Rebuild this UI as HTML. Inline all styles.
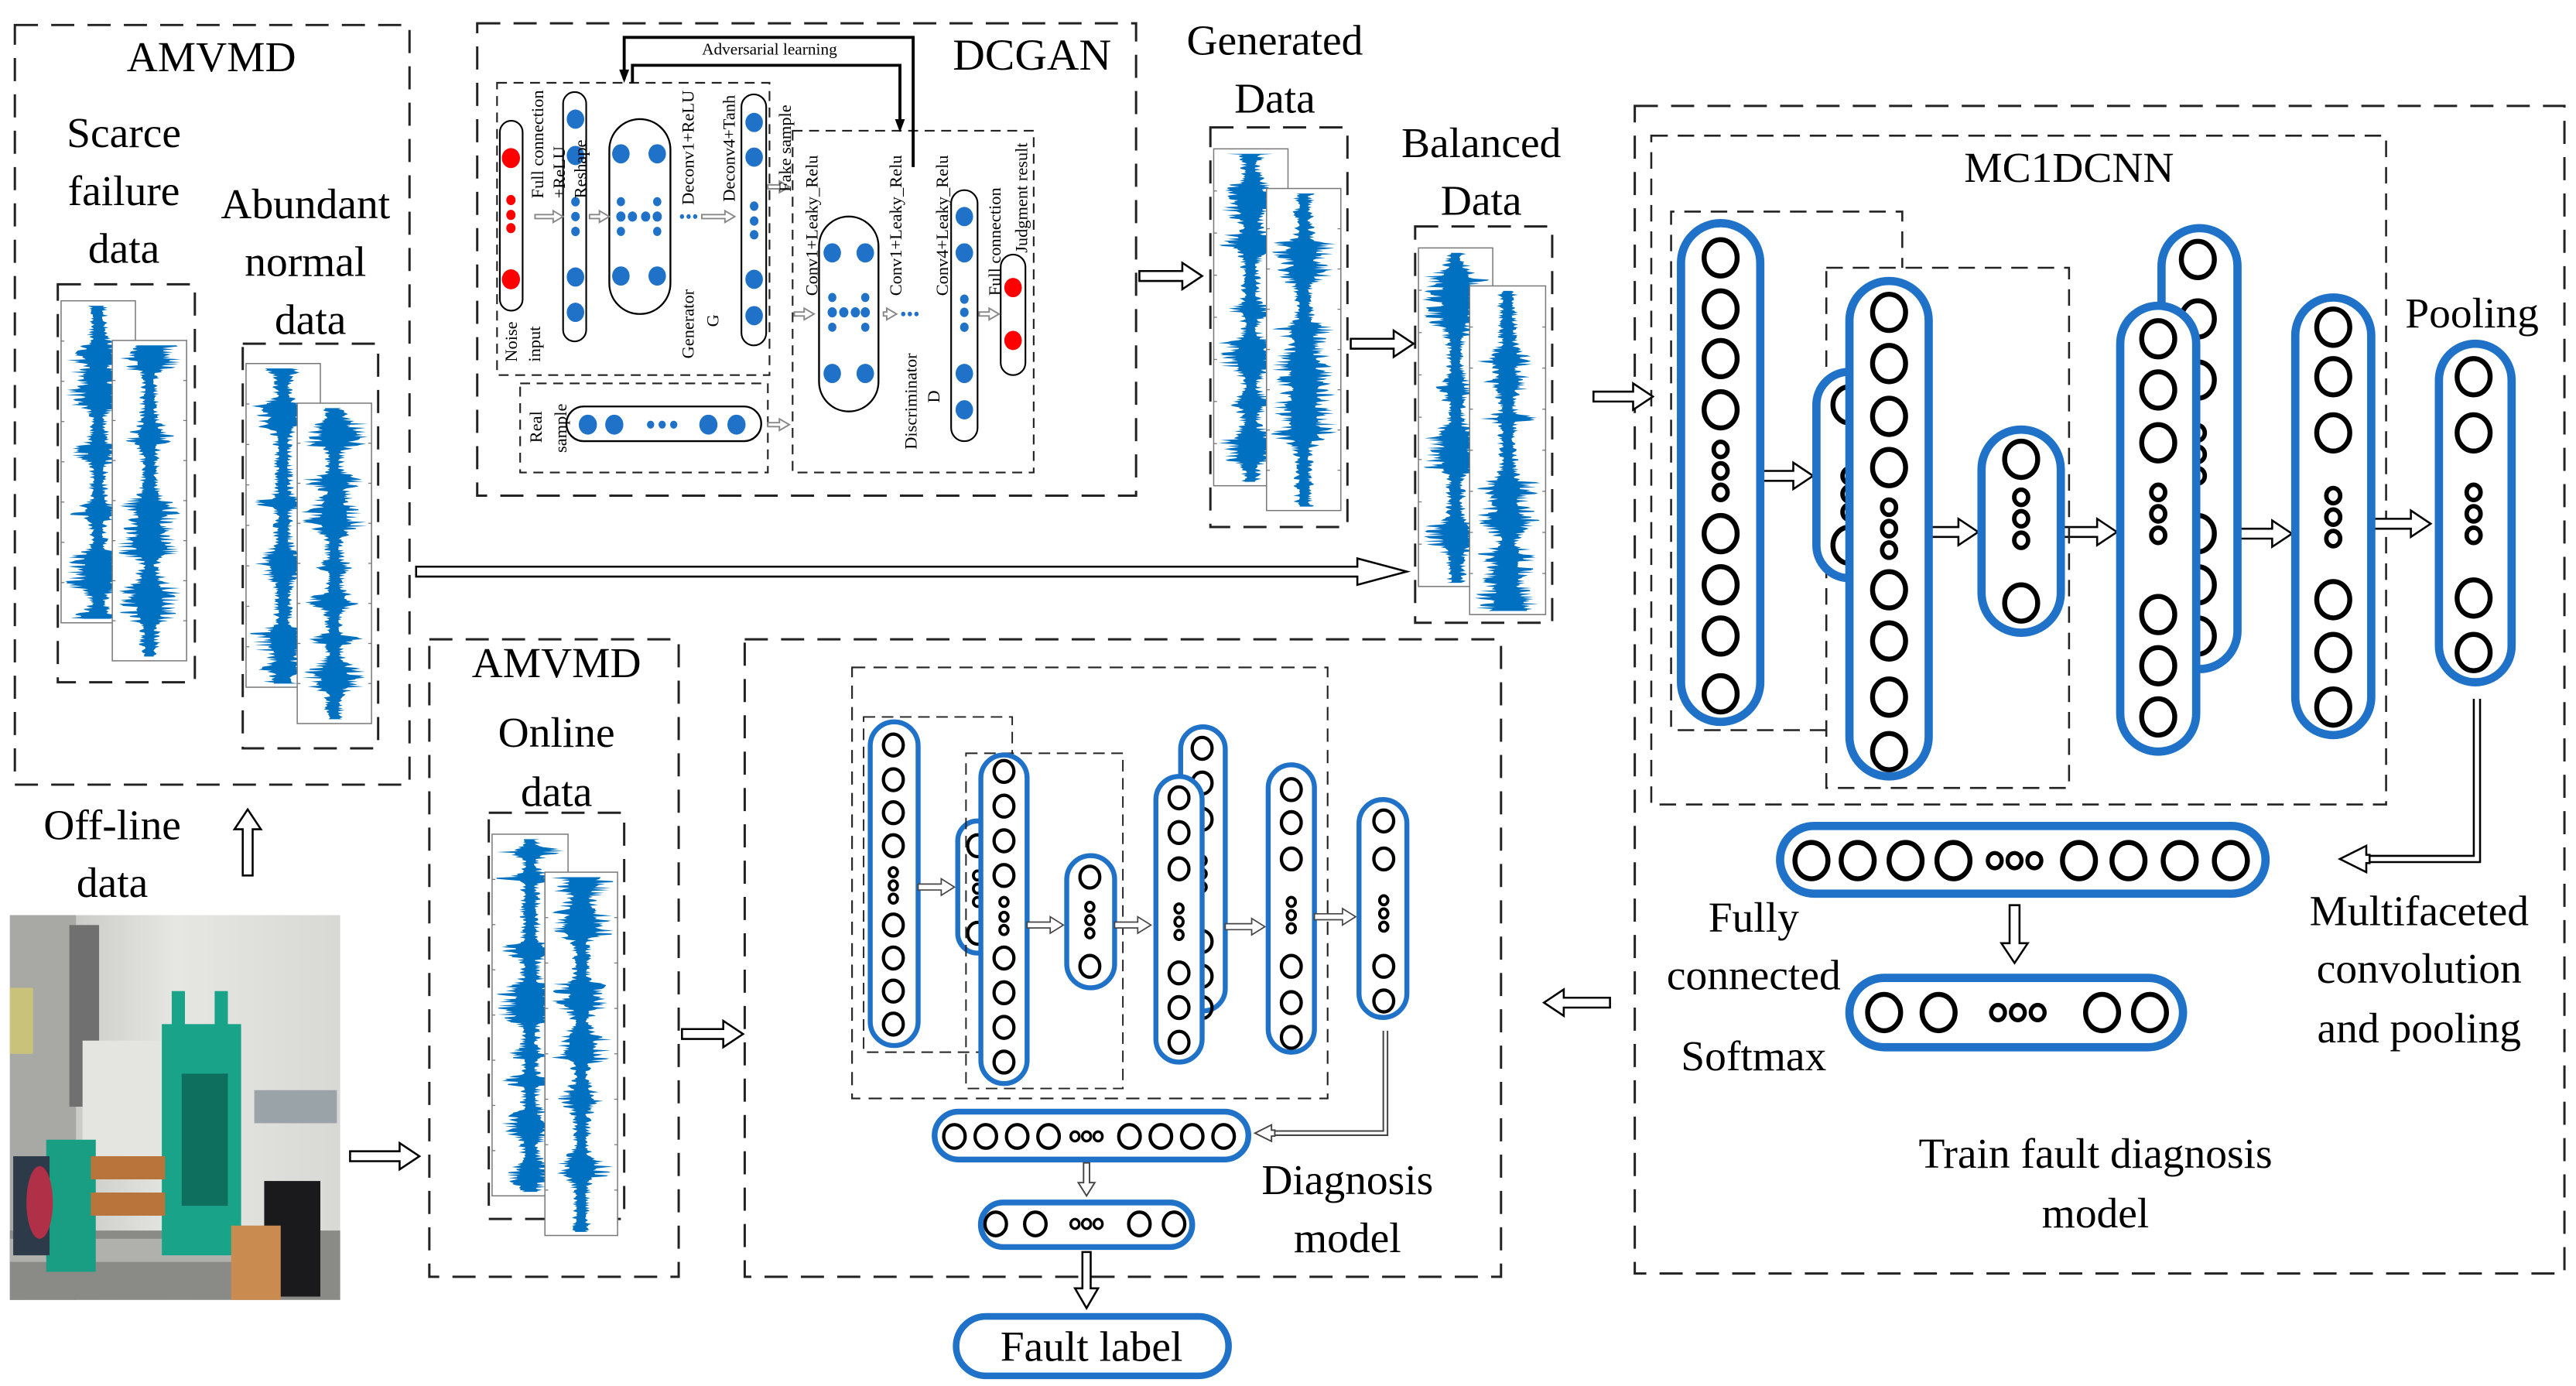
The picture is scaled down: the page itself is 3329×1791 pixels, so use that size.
<!DOCTYPE html>
<html><head><meta charset="utf-8">
<style>
html,body{margin:0;padding:0;background:#fff;}
svg{display:block;}
text{font-family:"Liberation Serif",serif;fill:#000;}
</style></head>
<body>
<svg id="s" width="3329" height="1791" viewBox="0 0 1560 839" xmlns="http://www.w3.org/2000/svg">
<rect width="1560" height="839" fill="#fff"/>
<g id="g"></g>
<g id="labels">
<text x="128" y="43" font-size="26" text-anchor="middle">AMVMD</text>
<text x="75" y="89" font-size="26" text-anchor="middle">Scarce</text>
<text x="75" y="124" font-size="26" text-anchor="middle">failure</text>
<text x="75" y="159" font-size="26" text-anchor="middle">data</text>
<text x="185" y="132" font-size="26" text-anchor="middle">Abundant</text>
<text x="185" y="167" font-size="26" text-anchor="middle">normal</text>
<text x="188" y="202" font-size="26" text-anchor="middle">data</text>
<text x="68" y="508" font-size="26" text-anchor="middle">Off-line</text>
<text x="68" y="543" font-size="26" text-anchor="middle">data</text>
<text x="337" y="410" font-size="26" text-anchor="middle">AMVMD</text>
<text x="337" y="452" font-size="26" text-anchor="middle">Online</text>
<text x="337" y="488" font-size="26" text-anchor="middle">data</text>
<text x="772" y="33" font-size="26" text-anchor="middle">Generated</text>
<text x="772" y="68" font-size="26" text-anchor="middle">Data</text>
<text x="897" y="95" font-size="26" text-anchor="middle">Balanced</text>
<text x="897" y="130" font-size="26" text-anchor="middle">Data</text>
<text x="625" y="42" font-size="27" text-anchor="middle">DCGAN</text>
<text x="466" y="33" font-size="10" text-anchor="middle">Adversarial learning</text>
<text x="1253" y="110" font-size="26" text-anchor="middle">MC1DCNN</text>
<text x="1497" y="198" font-size="26" text-anchor="middle">Pooling</text>
<text x="1062" y="564" font-size="26" text-anchor="middle">Fully</text>
<text x="1062" y="599" font-size="26" text-anchor="middle">connected</text>
<text x="1062" y="648" font-size="26" text-anchor="middle">Softmax</text>
<text x="1465" y="560" font-size="26" text-anchor="middle">Multifaceted</text>
<text x="1465" y="595" font-size="26" text-anchor="middle">convolution</text>
<text x="1465" y="631" font-size="26" text-anchor="middle">and pooling</text>
<text x="1269" y="707" font-size="26" text-anchor="middle">Train fault diagnosis</text>
<text x="1269" y="743" font-size="26" text-anchor="middle">model</text>
<text x="816" y="723" font-size="26" text-anchor="middle">Diagnosis</text>
<text x="816" y="758" font-size="26" text-anchor="middle">model</text>
<text x="661" y="824" font-size="26" text-anchor="middle">Fault label</text>
<g font-size="10.5">
<text transform="translate(313,219) rotate(-90)">Noise</text>
<text transform="translate(327,219) rotate(-90)">input</text>
<text transform="translate(329,120) rotate(-90)">Full connection</text>
<text transform="translate(342,120) rotate(-90)">+ReLU</text>
<text transform="translate(355,120) rotate(-90)">Reshape</text>
<text transform="translate(420,124) rotate(-90)">Deconv1+ReLU</text>
<text transform="translate(445,122) rotate(-90)">Deconv4+Tanh</text>
<text transform="translate(420,217) rotate(-90)">Generator</text>
<text transform="translate(435,194) rotate(-90)" text-anchor="middle">G</text>
<text transform="translate(479,116) rotate(-90)">Fake sample</text>
<text transform="translate(495,179) rotate(-90)">Conv1+Leaky_Relu</text>
<text transform="translate(546,179) rotate(-90)">Conv1+Leaky_Relu</text>
<text transform="translate(574,179) rotate(-90)">Conv4+Leaky_Relu</text>
<text transform="translate(606,179) rotate(-90)">Full connection</text>
<text transform="translate(622,153) rotate(-90)">Judgment result</text>
<text transform="translate(555,272) rotate(-90)">Discriminator</text>
<text transform="translate(569,240) rotate(-90)" text-anchor="middle">D</text>
<text transform="translate(328,268) rotate(-90)">Real</text>
<text transform="translate(343,274) rotate(-90)">sample</text>
</g>
</g>
</svg>
<script>
var out=[];
function P(s){out.push(s);}
function dr(x,y,w,h,d,sw){P('<rect x="'+x+'" y="'+y+'" width="'+w+'" height="'+h+'" fill="none" stroke="#222" stroke-width="'+(sw||1.3)+'" stroke-dasharray="'+(d||'10,6')+'"/>');}
function pill(x,y,w,h,st,sw,fill){var r=Math.min(w,h)/2;P('<rect x="'+x+'" y="'+y+'" width="'+w+'" height="'+h+'" rx="'+r+'" fill="'+(fill||'#fff')+'" stroke="'+st+'" stroke-width="'+sw+'"/>');}
function c(cx,cy,r,st,sw,fill){P('<ellipse cx="'+cx+'" cy="'+cy+'" rx="'+r+'" ry="'+(r*1.1)+'" fill="'+(fill||'none')+'" stroke="'+(st||'none')+'" stroke-width="'+(sw||0)+'"/>');}
function arr(x,y,len,ang,t,h,L,st,sw){
  t=t||3;h=h||8;L=L||12;
  var pts=[[0,-t],[len-L,-t],[len-L,-h],[len,0],[len-L,h],[len-L,t],[0,t]].map(function(p){return p[0]+','+p[1]}).join(' ');
  P('<polygon transform="translate('+x+','+y+') rotate('+ang+')" points="'+pts+'" fill="#fff" stroke="'+(st||'#000')+'" stroke-width="'+(sw||1.2)+'"/>');
}
var seed=12345;function rnd(){seed=(seed*1103515245+12345)%2147483648;return seed/2147483648;}
function wave(x,y,w,h){
  P('<rect x="'+x+'" y="'+y+'" width="'+w+'" height="'+h+'" fill="#fff" stroke="#777" stroke-width="0.7"/>');
  for(var i=1;i<8;i++){var ty=y+h*i/8;P('<line x1="'+x+'" y1="'+ty+'" x2="'+(x+2)+'" y2="'+ty+'" stroke="#777" stroke-width="0.6"/>');P('<line x1="'+(x+w)+'" y1="'+ty+'" x2="'+(x+w-2)+'" y2="'+ty+'" stroke="#777" stroke-width="0.6"/>');}
  var cx=x+w*0.5,L=[],R=[],bursts=[];for(var b=0;b<12;b++)bursts.push([y+rnd()*h,2+rnd()*6,0.3+rnd()*0.6]);
  for(var yy=y+3;yy<=y+h-2;yy+=0.6){
    var e=0.32;bursts.forEach(function(bb){var d=(yy-bb[0])/bb[1];e+=bb[2]*Math.exp(-d*d);});
    e=Math.min(e,1);var a=(w*0.45)*e;
    L.push((cx-a*(0.35+0.65*Math.pow(rnd(),1.6))).toFixed(1)+','+yy.toFixed(1));
    R.unshift((cx+a*(0.35+0.65*Math.pow(rnd(),1.6))).toFixed(1)+','+yy.toFixed(1));
  }
  P('<polygon points="'+L.concat(R).join(' ')+'" fill="#0070C0"/>');
}
var B='#1f72c8';
dr(9,15,239,460,'14,8',1.4);
dr(35,172,83,241,'14,8',1.4);dr(147,208,82,245,'14,8',1.4);
wave(37,182,45,195);wave(68,206,45,194);
wave(149,220,45,196);wave(180,244,45,194);
dr(289,14,399,286,'14,8',1.4);
dr(733,77,83,242,'14,8',1.4);wave(735,90,45,204);wave(767,114,45,195);
dr(857,137,83,240,'14,8',1.4);wave(859,150,45,205);wave(890,173,46,199);
dr(990,64,563,707,'14,8',1.4);
dr(1000,82,445,405,'10,6',1.2);
dr(260,387,151,386,'14,8',1.4);dr(296,492,82,246,'14,8',1.4);
wave(298,505,46,219);wave(330,528,44,220);
dr(451,387,458,386,'14,8',1.4);
dr(516,404,288,261,'8,5',1);
P('<defs><linearGradient id="bg" x1="0" y1="0" x2="1" y2="0"><stop offset="0" stop-color="#b9b9b5"/><stop offset="0.5" stop-color="#e6e6e2"/><stop offset="1" stop-color="#d8d8d4"/></linearGradient></defs>');
P('<rect x="6" y="554" width="200" height="233" fill="url(#bg)"/>');
P('<rect x="6" y="554" width="40" height="233" fill="#a8a8a4"/>');
P('<rect x="42" y="560" width="18" height="110" fill="#707070"/>');
P('<rect x="6" y="598" width="14" height="40" fill="#c9c27a"/>');
P('<rect x="50" y="630" width="50" height="70" fill="#e4e4e0"/>');
P('<rect x="6" y="745" width="200" height="42" fill="#8a8a86"/>');
P('<rect x="6" y="750" width="140" height="14" fill="#b0b0ac"/>');
P('<rect x="98" y="620" width="48" height="140" fill="#19a489"/>');
P('<rect x="104" y="600" width="8" height="22" fill="#19a489"/><rect x="130" y="600" width="8" height="22" fill="#19a489"/>');
P('<rect x="110" y="650" width="28" height="80" fill="#0f6f5f"/>');
P('<rect x="28" y="690" width="30" height="80" fill="#1a9e83"/>');
P('<rect x="8" y="700" width="22" height="60" fill="#2d3a4a"/>');
P('<ellipse cx="24" cy="728" rx="8" ry="22" fill="#b03048"/>');
P('<rect x="55" y="700" width="45" height="14" fill="#b8743a"/><rect x="55" y="722" width="45" height="14" fill="#b8743a"/>');
P('<rect x="160" y="715" width="34" height="70" fill="#1a1a1c"/>');
P('<rect x="140" y="742" width="30" height="45" fill="#c98b4f"/>');
P('<rect x="154" y="660" width="50" height="20" fill="#9aa3a8"/>');
arr(150,530,40,-90);
arr(212,700,42,0);
arr(413,626,37,0);
arr(252,346,600,0,3,8,30);
arr(690,167,38,0);arr(818,208,38,0);
arr(965,240,36,0);
arr(975,607,40,180);
arr(1220,548,35,90);
arr(1066,288,32,0);arr(1168,322,30,0);arr(1248,322,34,0);arr(1353,323,35,0);arr(1436,317,36,0);
P('<polyline points="1500,423 1500,520 1432,520" fill="none" stroke="#000" stroke-width="5"/><polyline points="1500,423 1500,520 1432,520" fill="none" stroke="#fff" stroke-width="2.6"/>');
arr(1435,520,18,180,2.5,8,16);
P('<path d="M1106,442 L1012,442 L1012,128 L1152,128 L1152,162" fill="none" stroke="#222" stroke-width="1.2" stroke-dasharray="10,6"/>');
dr(1106,162,147,315,'10,6',1.2);
function colm(x,y,w,h,cx,ys,ds,r,sw,csw){pill(x,y,w,h,B,sw);ys.forEach(function(yy){c(cx,yy,r,'#000',csw);});ds.forEach(function(yy){c(cx,yy,r*0.42,'#000',csw*0.9);});}
colm(1018,135,48,302,1042,[156,187,217,248,323,354,385,420],[272,285,298],10,5,3);
colm(1100,225,40,125,1120,[245,330],[288,299,310],10,5,3);
colm(1120,170,48,300,1144,[189,220,252,283,357,388,422,455],[307,320,333],10,5,3);
colm(1200,260,48,123,1224,[278,365],[301,314,327],10,5,3);
colm(1309,138,46,267,1331,[157,193,230,323,354,385],[262,275,288],10,5,3);
colm(1284,185,46,270,1307,[205,236,268,372,403,434],[298,311,324],10,5,3);
colm(1390,180,46,265,1413,[198,228,262,363,395,428],[300,313,326],10,5,3);
colm(1477,208,44,205,1498,[228,262,362,395],[298,311,324],10,5,3);
pill(1078,500,294,41,B,5);
[1097,1125,1154,1183,1259,1289,1320,1351].forEach(function(x){c(x,521,10,'#000',3);});
[1208,1220,1232].forEach(function(x){c(x,521,4.2,'#000',2.5);});
pill(1120,592,202,42,B,5);
[1141,1174,1273,1302].forEach(function(x){c(x,613,10,'#000',3);});
[1210,1222,1234].forEach(function(x){c(x,613,4.2,'#000',2.5);});
dr(523,434,90,203,'7,4',0.9);
colm(527,437,29,196,541,[451,472,492,512,560,580,600,620],[528,536,544],6,3,2);
colm(580,497,24,80,592,[512,565],[530,538,546],6,3,2);
dr(585,456,95,203,'7,4',0.9);
colm(594,457,28,199,608,[467,488,509,530,580,601,622,643],[546,555,563],6,3,2);
colm(646,518,29,80,660,[531,585],[549,557,565],6,3,2);
colm(715,440,27,172,728,[453,474,496,570,591,610],[521,529,537],6,3,2);
colm(700,470,28,173,714,[483,504,526,589,610,631],[550,558,566],6,3,2);
colm(768,463,28,174,782,[478,498,520,585,607,628],[546,554,562],6,3,2);
colm(823,484,29,132,838,[497,520,585,606],[545,553,561],6,3,2);
arr(556,537,22,0,1.8,5,8,'#444',0.8);arr(622,560,22,0,1.8,5,8,'#444',0.8);arr(675,560,22,0,1.8,5,8,'#444',0.8);arr(742,561,24,0,1.8,5,8,'#444',0.8);arr(796,555,25,0,1.8,5,8,'#444',0.8);
P('<polyline points="839,624 839,686 770,686" fill="none" stroke="#444" stroke-width="3.5"/><polyline points="839,624 839,686 770,686" fill="none" stroke="#fff" stroke-width="1.6"/>');
arr(772,686,12,180,1.8,5,10,'#444',0.9);
pill(566,673,190,29,B,3.5);
[578,597,616,635,684,703,722,741].forEach(function(x){c(x,688,6.5,'#000',2);});
[651,658,665].forEach(function(x){c(x,688,2.6,'#000',1.6);});
arr(658,704,20,90,1.8,5,8,'#444',0.9);
pill(594,728,128,27,B,3.5);
[603,627,690,711].forEach(function(x){c(x,741,6.5,'#000',2);});
[651,658,665].forEach(function(x){c(x,741,2.6,'#000',1.6);});
arr(658,758,34,90,2.5,7,12,'#000',1.2);
pill(579,797,165,36,B,4);
dr(301,50,165,177,'6,4',1);
dr(315,232,150,54,'6,4',1);
dr(480,79,146,207,'6,4',1);
P('<polyline points="378,48 378,22.5 553,22.5 553,101" fill="none" stroke="#000" stroke-width="1.8"/>');
P('<polyline points="383,50 383,39.4 545,39.4 545,74" fill="none" stroke="#000" stroke-width="1.8"/>');
P('<polygon points="375,42 381,42 378,50" fill="#000"/><polygon points="542,72 548,72 545,80" fill="#000"/>');
pill(302.7,73,13.8,115,'#000',1);
c(309.4,95.6,5.5,'none',0,'#f00');c(309.4,169,5.5,'none',0,'#f00');
[121,130,138].forEach(function(y){c(309.4,y,2.8,'none',0,'#f00');});
pill(341,55.6,14,151,'#000',1);
[72,94,167.6,189].forEach(function(y){c(348.5,y,5.3,'none',0,B);});
[122,131,140].forEach(function(y){c(348.5,y,2.6,'none',0,B);});
pill(369,72,37,118,'#000',1.1);
[[376,93],[398,93],[376,167],[398,167]].forEach(function(p){c(p[0],p[1],5.3,'none',0,B);});
[376,383,391,398].forEach(function(x){c(x,131,2.8,'none',0,B);});
[376,398].forEach(function(x){c(x,122,2.5,'none',0,B);c(x,140,2.5,'none',0,B);});
pill(449,57,15,152,'#000',1);
[74,95,169,191].forEach(function(y){c(456.7,y,5.3,'none',0,B);});
[124.7,133.7,142].forEach(function(y){c(456.7,y,2.6,'none',0,B);});
pill(343,246,118,21,'#000',1.1);
[356,372,429,446].forEach(function(x){c(x,257,5.5,'none',0,B);});
[394,401,408].forEach(function(x){c(x,257,2.2,'none',0,B);});
pill(496,131,36,118,'#000',1.1);
[[504,153],[524,153],[504,226],[524,226]].forEach(function(p){c(p[0],p[1],5.3,'none',0,B);});
[504,511,518,524].forEach(function(x){c(x,189,2.8,'none',0,B);});
[504,524].forEach(function(x){c(x,180,2.5,'none',0,B);c(x,198,2.5,'none',0,B);});
pill(576,115,16,152,'#000',1);
[131,153,226,248].forEach(function(y){c(584,y,5.3,'none',0,B);});
[181,189,198].forEach(function(y){c(584,y,2.6,'none',0,B);});
pill(606,154,15,73,'#000',1);
c(613.5,174,5.3,'none',0,'#f00');c(613.5,206,5.3,'none',0,'#f00');
var ga=function(x,y,l){arr(x,y,l,0,1.2,3.5,6,'#888',0.9);};
ga(324,131,17);ga(357,131,12);ga(425,131,20);ga(481,190,12);ga(593,190,12);ga(465,257,13);ga(465,113,13);ga(535,190,8);
[413,417,421,547,551,555].forEach(function(x){c(x,x<500?131:190,1.3,'none',0,B);});
document.getElementById('g').innerHTML=out.join('');
</script>
</body></html>
